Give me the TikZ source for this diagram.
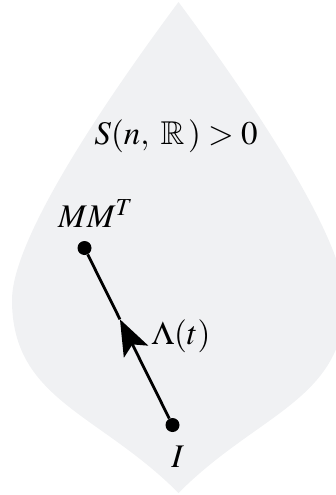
\documentclass[tikz,border=0pt]{standalone}
\usepackage{mathptmx}
\usepackage{amssymb}
\usepackage{tikz}
\usetikzlibrary{arrows.meta, calc}

\definecolor{leafgray}{HTML}{F0F1F3}

\begin{document}
\begin{tikzpicture}[x=1pt, y=-1pt, font=\fontsize{33}{40}\selectfont, region/.style={fill=leafgray}, dotnode/.style={circle, fill=black, inner sep=0pt, minimum size=14pt}, curve/.style={line width=2.8pt}, lbl/.style={anchor=base, inner sep=0pt}]
\useasboundingbox (0,0) rectangle (336,495);
% the cone of positive definite matrices
\fill[region] (178.5,2) .. controls (134,62) and (12,230) .. (12,300) .. controls (12,400) and (99,413) .. (178.5,493) .. controls (258,413) and (345,400) .. (345,300) .. controls (345,230) and (223,62) .. (178.5,2) -- cycle;
\node[lbl] (space) at (176,144) {$S(n,\;\mathbb{R}\,)>0$};
\node[dotnode] (MM) at (84.5,248) {}; \node[lbl] (mmlabel) at (95.5,227) {$MM^T$};
\node[dotnode] (I) at (172.5,425) {}; \node[lbl] (ilabel) at (177.7,467) {$I$};
% path from I to MM^T
\coordinate (tip) at ($(I)!0.597!(MM)$);
\draw[curve, -{Stealth[length=36pt, width=27pt, inset=8pt]}] (I) -- (tip); \draw[curve] (tip) -- (MM);
\node[lbl] (lambda) at (181,344) {$\Lambda(t)$};
\end{tikzpicture}
\end{document}
